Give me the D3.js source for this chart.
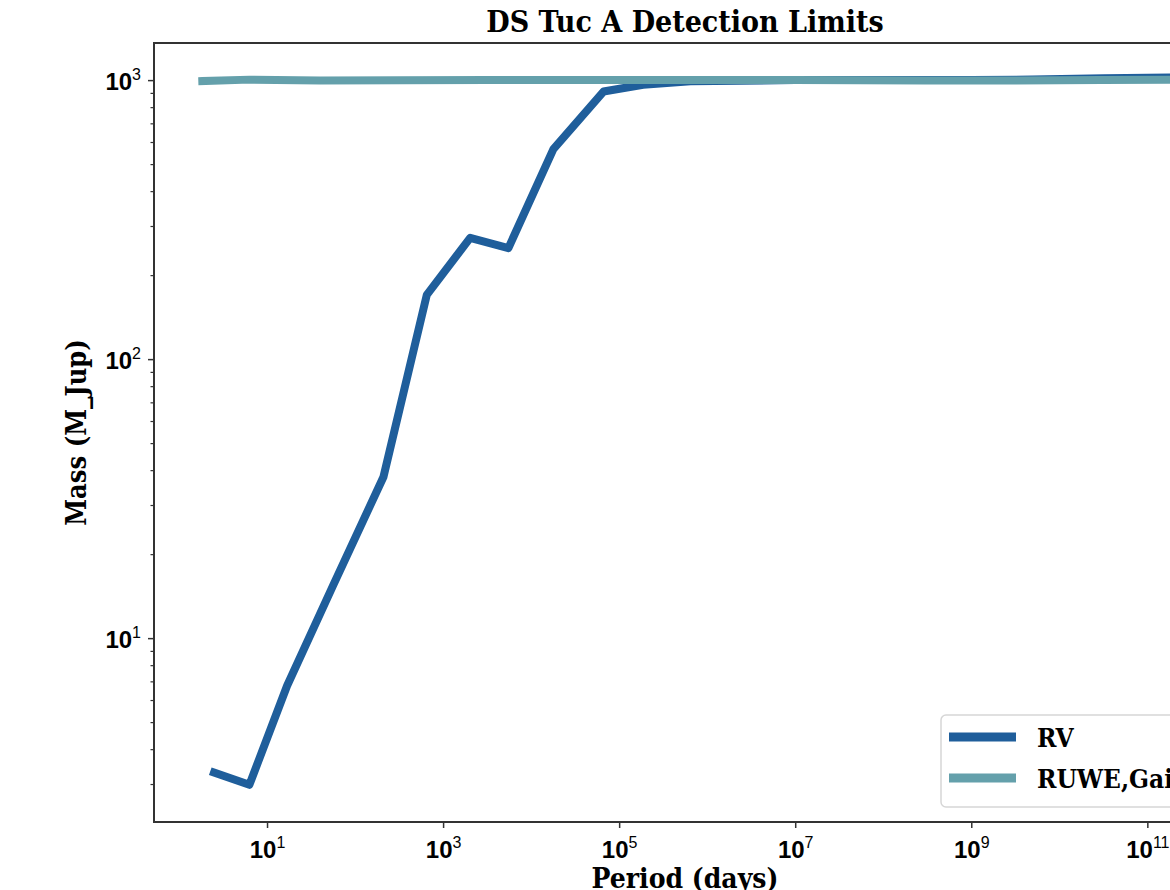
<!doctype html>
<html>
<head>
<meta charset="utf-8">
<script src="https://cdn.jsdelivr.net/npm/d3@7"></script>
<style>
  html, body { margin: 0; padding: 0; background: #fff; overflow: hidden; }
  svg { display: block; font-family: "DejaVu Serif Condensed", "DejaVu Serif", serif; font-stretch: condensed; font-weight: bold; }
</style>
</head>
<body>
<script>
// RV detection limit (period in days, mass in M_Jup)
const rvPeriod = [2.5, 6.3, 16.9, 56, 210, 653, 2030, 5520, 17900, 66400, 187000, 646000, 1e7, 1e8, 1e9, 5e9, 3.2e10, 1.7e11];
const rvMass   = [3.3, 2.98, 6.75, 15.4, 37.8, 170, 272, 250, 566, 910, 962, 990, 1000, 1000, 1000, 1005, 1015, 1022];

// RUWE / Gaia detection limit
const gaiaPeriod = [1.84, 6.3, 40, 320, 3200, 1e5, 1e7, 3e8, 3e9, 3e10, 1.7e11];
const gaiaMass   = [992, 1004, 997, 999, 1000, 1000, 1000, 997, 996, 1000, 1002];

const seriesNames = ["RV", "RUWE,Gaia"];
const seriesColors = ["#1f5e9b", "#64a0ab"];

const xTickExp = [1, 3, 5, 7, 9, 11];
const yTickExp = [1, 2, 3];

const W = 1260, H = 890;
const plotL = 154, plotR = 1216, plotT = 43, plotB = 822;

const x = d3.scaleLog().domain([10 ** -0.284, 10 ** 11.78]).range([plotL, plotR]);
const y = d3.scaleLog().domain([10 ** 0.341, 10 ** 3.133]).range([plotB, plotT]);

const svg = d3.select("body").append("svg").attr("width", W).attr("height", H);

// lines
const line = d3.line().x(d => x(d[0])).y(d => y(d[1]));
const series = [
  d3.zip(rvPeriod, rvMass),
  d3.zip(gaiaPeriod, gaiaMass)
];
svg.append("g").selectAll("path").data(series).join("path")
    .attr("d", line)
    .attr("fill", "none")
    .attr("stroke", (d, i) => seriesColors[i])
    .attr("stroke-width", 8)
    .attr("stroke-linejoin", "round")
    .attr("stroke-linecap", "square");

// x axis
const xAxis = d3.axisBottom(x).tickValues(xTickExp.map(e => 10 ** e)).tickSize(6).tickFormat("");
const gx = svg.append("g").attr("transform", `translate(0,${plotB})`).call(xAxis);
gx.select(".domain").remove();
gx.selectAll(".tick line").attr("stroke", "#333").attr("stroke-width", 1.5);
gx.selectAll(".tick").each(function(d) {
  const t = d3.select(this).append("text").attr("fill", "#000").attr("y", 36).attr("text-anchor", "middle")
      .attr("font-size", 24);
  t.append("tspan").text("10");
  t.append("tspan").attr("dy", -10).attr("font-size", 16).attr("font-weight", "normal").text(Math.round(Math.log10(d)));
});

// y axis: majors + minors
const yMinor = [];
for (let e = 0; e <= 3; e++) for (let m = 2; m <= 9; m++) {
  const v = m * 10 ** e;
  if (v > y.domain()[0] && v < y.domain()[1]) yMinor.push(v);
}
const gyMinor = svg.append("g").attr("transform", `translate(${plotL},0)`)
    .call(d3.axisLeft(y).tickValues(yMinor).tickSize(3.5).tickFormat(""));
gyMinor.select(".domain").remove();
gyMinor.selectAll(".tick line").attr("stroke", "#333").attr("stroke-width", 1.2);

const gy = svg.append("g").attr("transform", `translate(${plotL},0)`)
    .call(d3.axisLeft(y).tickValues(yTickExp.map(e => 10 ** e)).tickSize(6).tickFormat(""));
gy.select(".domain").remove();
gy.selectAll(".tick line").attr("stroke", "#333").attr("stroke-width", 1.5);
gy.selectAll(".tick").each(function(d) {
  const t = d3.select(this).append("text").attr("fill", "#000").attr("x", -13).attr("y", 9)
      .attr("text-anchor", "end").attr("font-size", 24);
  t.append("tspan").text("10");
  t.append("tspan").attr("dy", -10).attr("font-size", 16).attr("font-weight", "normal").text(Math.round(Math.log10(d)));
});

// frame
svg.append("rect").attr("x", plotL).attr("y", plotT).attr("width", plotR - plotL).attr("height", plotB - plotT)
    .attr("fill", "none").attr("stroke", "#333").attr("stroke-width", 2);

// title and labels
svg.append("text").attr("x", (plotL + plotR) / 2).attr("y", 32).attr("text-anchor", "middle")
    .attr("font-size", 30).text("DS Tuc A Detection Limits");
svg.append("text").attr("x", (plotL + plotR) / 2).attr("y", 888).attr("text-anchor", "middle")
    .attr("font-size", 28).text("Period (days)");
svg.append("text").attr("transform", `translate(86,${(plotT + plotB) / 2}) rotate(-90)`)
    .attr("text-anchor", "middle").attr("font-size", 27).text("Mass (M_Jup)");

// legend
const lg = svg.append("g").attr("transform", "translate(941,715)");
lg.append("rect").attr("width", 262).attr("height", 92).attr("rx", 5)
    .attr("fill", "#fff").attr("fill-opacity", 0.8).attr("stroke", "#d6d6d6").attr("stroke-width", 1.5);
seriesNames.forEach((name, i) => {
  const yy = 22 + i * 41;
  lg.append("line").attr("x1", 8).attr("x2", 75).attr("y1", yy).attr("y2", yy)
      .attr("stroke", seriesColors[i]).attr("stroke-width", 9);
  lg.append("text").attr("x", 96).attr("y", yy + 10).attr("font-size", 26).text(name);
});
</script>
</body>
</html>
